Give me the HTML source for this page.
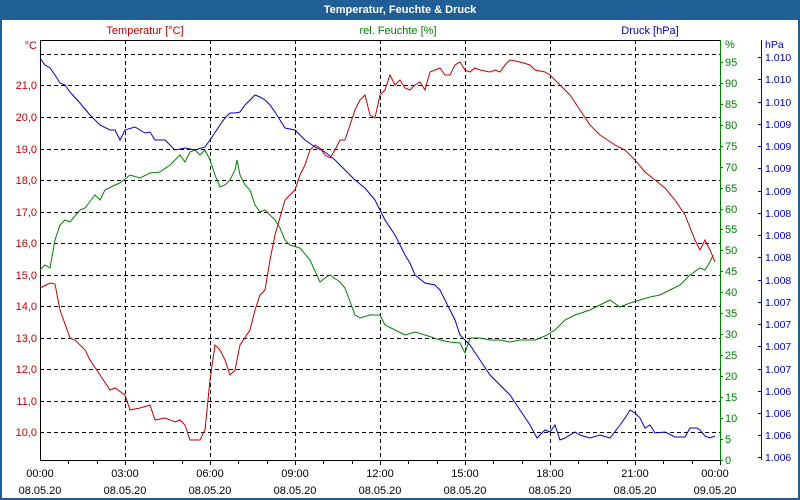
<!DOCTYPE html>
<html><head><meta charset="utf-8"><style>
body{margin:0;background:#fff;}
svg{display:block;font-family:"Liberation Sans",sans-serif;font-size:11px;}
</style></head><body>
<svg width="800" height="500" xmlns="http://www.w3.org/2000/svg">
<rect x="0" y="0" width="800" height="500" fill="#fff"/>
<rect x="1" y="1" width="798" height="498" fill="none" stroke="#1f5f96" stroke-width="2"/>
<rect x="0" y="0" width="800" height="20" fill="#1f5f96"/>
<text x="400" y="13" text-anchor="middle" fill="#fff" font-weight="bold">Temperatur, Feuchte &amp; Druck</text>
<text x="145" y="34" text-anchor="middle" fill="#c00000">Temperatur [°C]</text>
<text x="398" y="34" text-anchor="middle" fill="#008000">rel. Feuchte [%]</text>
<text x="650" y="34" text-anchor="middle" fill="#0000c0">Druck [hPa]</text>
<g stroke="#000" stroke-dasharray="4,3" stroke-width="1">
<line x1="40" x2="720" y1="54.5" y2="54.5"/><line x1="40" x2="720" y1="85.5" y2="85.5"/><line x1="40" x2="720" y1="117.5" y2="117.5"/><line x1="40" x2="720" y1="149.5" y2="149.5"/><line x1="40" x2="720" y1="180.5" y2="180.5"/><line x1="40" x2="720" y1="212.5" y2="212.5"/><line x1="40" x2="720" y1="243.5" y2="243.5"/><line x1="40" x2="720" y1="275.5" y2="275.5"/><line x1="40" x2="720" y1="306.5" y2="306.5"/><line x1="40" x2="720" y1="338.5" y2="338.5"/><line x1="40" x2="720" y1="369.5" y2="369.5"/><line x1="40" x2="720" y1="401.5" y2="401.5"/><line x1="40" x2="720" y1="432.5" y2="432.5"/>
<line y1="40" y2="460" x1="125.5" x2="125.5"/><line y1="40" y2="460" x1="210.5" x2="210.5"/><line y1="40" y2="460" x1="295.5" x2="295.5"/><line y1="40" y2="460" x1="380.5" x2="380.5"/><line y1="40" y2="460" x1="465.5" x2="465.5"/><line y1="40" y2="460" x1="550.5" x2="550.5"/><line y1="40" y2="460" x1="635.5" x2="635.5"/>
</g>
<line x1="40" x2="720" y1="40.5" y2="40.5" stroke="#000"/>
<line x1="40.5" x2="40.5" y1="40" y2="461" stroke="#000"/>
<line x1="40" x2="720" y1="460.5" y2="460.5" stroke="#000"/>
<line x1="720.5" x2="720.5" y1="40" y2="461" stroke="#008000"/>
<line x1="761.5" x2="761.5" y1="40" y2="460" stroke="#0000c0"/>
<g stroke="#000">
<line x1="68.5" x2="68.5" y1="460" y2="464"/><line x1="97.5" x2="97.5" y1="460" y2="464"/><line x1="125.5" x2="125.5" y1="460" y2="465"/><line x1="153.5" x2="153.5" y1="460" y2="464"/><line x1="182.5" x2="182.5" y1="460" y2="464"/><line x1="210.5" x2="210.5" y1="460" y2="465"/><line x1="238.5" x2="238.5" y1="460" y2="464"/><line x1="267.5" x2="267.5" y1="460" y2="464"/><line x1="295.5" x2="295.5" y1="460" y2="465"/><line x1="323.5" x2="323.5" y1="460" y2="464"/><line x1="352.5" x2="352.5" y1="460" y2="464"/><line x1="380.5" x2="380.5" y1="460" y2="465"/><line x1="408.5" x2="408.5" y1="460" y2="464"/><line x1="437.5" x2="437.5" y1="460" y2="464"/><line x1="465.5" x2="465.5" y1="460" y2="465"/><line x1="493.5" x2="493.5" y1="460" y2="464"/><line x1="522.5" x2="522.5" y1="460" y2="464"/><line x1="550.5" x2="550.5" y1="460" y2="465"/><line x1="578.5" x2="578.5" y1="460" y2="464"/><line x1="607.5" x2="607.5" y1="460" y2="464"/><line x1="635.5" x2="635.5" y1="460" y2="465"/><line x1="663.5" x2="663.5" y1="460" y2="464"/><line x1="692.5" x2="692.5" y1="460" y2="464"/><line x1="720.5" x2="720.5" y1="460" y2="465"/>
</g>
<g fill="#c00000" text-anchor="end">
<text x="37" y="49">°C</text>
<text x="37" y="89">21,0</text><text x="37" y="121">20,0</text><text x="37" y="153">19,0</text><text x="37" y="184">18,0</text><text x="37" y="216">17,0</text><text x="37" y="247">16,0</text><text x="37" y="279">15,0</text><text x="37" y="310">14,0</text><text x="37" y="342">13,0</text><text x="37" y="373">12,0</text><text x="37" y="405">11,0</text><text x="37" y="436">10,0</text>
</g>
<g fill="#008000" stroke="#008000">
<line x1="720" x2="723" y1="62.5" y2="62.5"/><line x1="720" x2="723" y1="83.5" y2="83.5"/><line x1="720" x2="723" y1="104.5" y2="104.5"/><line x1="720" x2="723" y1="125.5" y2="125.5"/><line x1="720" x2="723" y1="146.5" y2="146.5"/><line x1="720" x2="723" y1="167.5" y2="167.5"/><line x1="720" x2="723" y1="188.5" y2="188.5"/><line x1="720" x2="723" y1="209.5" y2="209.5"/><line x1="720" x2="723" y1="229.5" y2="229.5"/><line x1="720" x2="723" y1="250.5" y2="250.5"/><line x1="720" x2="723" y1="271.5" y2="271.5"/><line x1="720" x2="723" y1="292.5" y2="292.5"/><line x1="720" x2="723" y1="313.5" y2="313.5"/><line x1="720" x2="723" y1="334.5" y2="334.5"/><line x1="720" x2="723" y1="355.5" y2="355.5"/><line x1="720" x2="723" y1="376.5" y2="376.5"/><line x1="720" x2="723" y1="397.5" y2="397.5"/><line x1="720" x2="723" y1="418.5" y2="418.5"/><line x1="720" x2="723" y1="439.5" y2="439.5"/><line x1="720" x2="723" y1="460.5" y2="460.5"/>
</g>
<g fill="#008000">
<text x="725" y="48">%</text>
<text x="725" y="66">95</text><text x="725" y="87">90</text><text x="725" y="108">85</text><text x="725" y="129">80</text><text x="725" y="150">75</text><text x="725" y="171">70</text><text x="725" y="192">65</text><text x="725" y="213">60</text><text x="725" y="233">55</text><text x="725" y="254">50</text><text x="725" y="275">45</text><text x="725" y="296">40</text><text x="725" y="317">35</text><text x="725" y="338">30</text><text x="725" y="359">25</text><text x="725" y="380">20</text><text x="725" y="401">15</text><text x="725" y="422">10</text><text x="725" y="443">5</text><text x="725" y="464">0</text>
</g>
<g fill="#0000c0" font-size="10.5">
<text x="765" y="48">hPa</text>
<text x="765" y="61">1.010</text><text x="765" y="83">1.010</text><text x="765" y="106">1.010</text><text x="765" y="128">1.009</text><text x="765" y="150">1.009</text><text x="765" y="172">1.009</text><text x="765" y="195">1.009</text><text x="765" y="217">1.008</text><text x="765" y="239">1.008</text><text x="765" y="261">1.008</text><text x="765" y="284">1.008</text><text x="765" y="306">1.007</text><text x="765" y="328">1.007</text><text x="765" y="350">1.007</text><text x="765" y="373">1.007</text><text x="765" y="395">1.006</text><text x="765" y="417">1.006</text><text x="765" y="439">1.006</text><text x="765" y="461">1.006</text>
</g>
<g stroke="#0000c0"><line x1="758" x2="761" y1="57.5" y2="57.5"/><line x1="758" x2="761" y1="79.5" y2="79.5"/><line x1="758" x2="761" y1="102.5" y2="102.5"/><line x1="758" x2="761" y1="124.5" y2="124.5"/><line x1="758" x2="761" y1="146.5" y2="146.5"/><line x1="758" x2="761" y1="168.5" y2="168.5"/><line x1="758" x2="761" y1="191.5" y2="191.5"/><line x1="758" x2="761" y1="213.5" y2="213.5"/><line x1="758" x2="761" y1="235.5" y2="235.5"/><line x1="758" x2="761" y1="257.5" y2="257.5"/><line x1="758" x2="761" y1="280.5" y2="280.5"/><line x1="758" x2="761" y1="302.5" y2="302.5"/><line x1="758" x2="761" y1="324.5" y2="324.5"/><line x1="758" x2="761" y1="346.5" y2="346.5"/><line x1="758" x2="761" y1="369.5" y2="369.5"/><line x1="758" x2="761" y1="391.5" y2="391.5"/><line x1="758" x2="761" y1="413.5" y2="413.5"/><line x1="758" x2="761" y1="435.5" y2="435.5"/><line x1="758" x2="761" y1="457.5" y2="457.5"/></g>
<g fill="#000" text-anchor="middle">
<text x="40" y="477">00:00</text><text x="40" y="494">08.05.20</text>
<text x="125" y="477">03:00</text><text x="125" y="494">08.05.20</text>
<text x="210" y="477">06:00</text><text x="210" y="494">08.05.20</text>
<text x="295" y="477">09:00</text><text x="295" y="494">08.05.20</text>
<text x="380" y="477">12:00</text><text x="380" y="494">08.05.20</text>
<text x="465" y="477">15:00</text><text x="465" y="494">08.05.20</text>
<text x="550" y="477">18:00</text><text x="550" y="494">08.05.20</text>
<text x="635" y="477">21:00</text><text x="635" y="494">08.05.20</text>
<text x="715" y="477">00:00</text><text x="715" y="494">09.05.20</text>
</g>
<g fill="none" stroke-width="1">
<polyline stroke="#008000" points="40,270 45,265 50,268 55,240 60,225 65,220 70,222 80,210 85,208 95,195 100,200 105,190 115,185 120,183 130,175 140,178 150,173 160,172 170,165 175,160 180,155 185,162 190,152 195,150 200,155 205,150 210,160 215,175 220,187 225,185 230,180 235,170 237,160 240,175 245,185 250,190 255,205 260,212 265,210 275,220 280,228 285,240 290,245 300,248 310,260 320,282 325,278 330,275 340,282 345,288 355,315 360,318 370,315 380,315 385,325 395,330 405,335 415,332 425,335 440,340 450,342 460,343 465,353 470,338 480,338 490,340 500,340 510,342 520,340 535,340 545,336 555,330 565,320 575,315 590,310 600,305 610,300 620,307 630,303 640,300 650,297 660,295 670,290 680,285 690,275 700,268 705,270 710,262 713,255"/>
<polyline stroke="#0000c0" points="40,58 45,65 50,68 55,75 60,83 65,85 70,92 80,103 90,115 100,125 110,130 115,130 120,140 125,130 135,127 145,133 150,132 155,140 165,140 175,150 185,148 195,150 205,147 210,140 220,125 225,118 230,113 235,113 240,112 245,105 255,95 260,97 265,100 270,105 275,112 280,120 285,128 295,130 305,140 315,147 325,152 335,160 345,170 355,180 365,188 375,200 385,220 395,235 400,245 405,255 410,263 415,275 425,283 435,285 440,290 450,310 455,320 460,335 470,345 480,360 490,375 500,385 510,395 520,410 530,425 537,438 545,430 550,432 555,425 560,440 565,438 575,432 580,435 590,438 600,435 610,438 620,425 625,418 630,410 635,413 640,418 645,428 650,425 655,433 665,432 675,437 685,437 690,428 697,428 700,430 705,436 710,438 715,436"/>
<polyline stroke="#c00000" points="40,288 50,283 55,284 60,310 70,338 75,340 85,350 90,360 100,375 110,390 115,388 125,395 130,410 140,408 150,405 155,420 165,418 175,422 180,420 185,425 190,440 200,440 205,430 210,380 215,345 220,350 225,360 230,375 235,370 240,345 250,330 255,310 260,295 265,290 270,260 275,235 285,200 290,195 295,190 300,175 305,165 310,150 315,145 320,148 325,155 330,158 335,150 340,140 345,140 350,125 355,110 360,100 365,95 370,115 375,118 380,95 385,90 390,75 395,85 400,80 405,88 410,90 415,85 420,82 425,90 430,72 435,70 440,68 445,75 450,75 455,65 460,62 465,70 470,72 475,68 480,70 490,72 495,70 500,72 505,65 510,60 520,62 530,65 535,70 545,72 550,75 560,85 570,95 580,110 590,125 600,135 615,145 625,150 635,160 645,172 655,180 665,188 675,200 685,215 695,240 700,250 705,240 710,250 715,262"/>
</g>
</svg>
</body></html>
